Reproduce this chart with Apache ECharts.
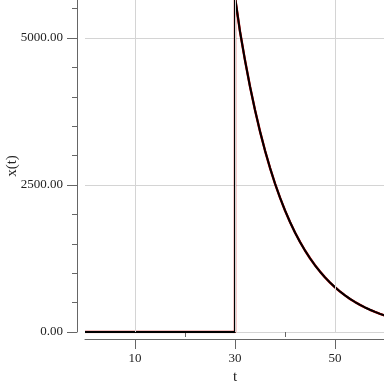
<!DOCTYPE html>
<html>
<head>
<meta charset="utf-8">
<script src="https://cdn.jsdelivr.net/npm/echarts@6/dist/echarts.min.js"></script>
<style>html,body{margin:0;padding:0;background:#fff;}#c{width:384px;height:384px;}</style>
</head>
<body>
<div id="c"></div>
<script>
// time points (t) and x(t) values
const tValues = [0, 30, 30, 31, 32, 33, 34, 35, 36, 37, 38, 39, 40, 41, 42, 43, 44, 45, 46, 47, 48, 49, 50, 51, 52, 53, 54, 55, 56, 57, 58, 59, 60];
const xValues = [0, 0, 5700, 5110, 4620, 4175, 3775, 3412, 3086, 2792, 2525, 2285, 2067, 1871, 1693, 1532, 1386, 1254, 1135, 1027, 929, 841, 761, 688, 623, 563, 510, 461, 417, 378, 342, 309, 280];
const xMajorTicks = [10, 30, 50];
const xMinorTicks = [20, 40];
const yTickStep = 2500;

const pairs = tValues.map((t, i) => [t, xValues[i]]);
const font = 'Liberation Serif';
const axisColor = '#666';

const chart = echarts.init(document.getElementById('c'), null, {renderer: 'canvas'});
chart.setOption({
  animation: false,
  grid: {left: 85, right: -1, top: -109, bottom: 52, containLabel: false, outerBoundsMode: 'none'},
  xAxis: [{
    type: 'value', min: 0, max: 60, interval: 10, offset: 7, position: 'bottom',
    axisLine: {show: true, onZero: false, lineStyle: {color: axisColor, width: 1}},
    axisTick: {show: true, customValues: xMajorTicks, length: 10, lineStyle: {color: axisColor}},
    axisLabel: {customValues: xMajorTicks, margin: 13, fontFamily: font, fontSize: 13, color: '#222'},
    splitLine: {show: false},
    name: 't', nameLocation: 'middle', nameGap: 26,
    nameTextStyle: {fontFamily: font, fontSize: 15, color: '#222'}
  }, {
    type: 'value', min: 0, max: 60, interval: 10, offset: 7, position: 'bottom',
    axisLine: {show: false},
    axisTick: {show: true, customValues: xMinorTicks, length: 5, lineStyle: {color: axisColor}},
    axisLabel: {show: false},
    splitLine: {show: false}
  }],
  yAxis: {
    type: 'value', min: 0, max: 7500, interval: yTickStep, offset: 8,
    axisLine: {show: true, onZero: false, lineStyle: {color: axisColor, width: 1}},
    axisTick: {show: true, length: 10, lineStyle: {color: axisColor}},
    minorTick: {show: true, splitNumber: 5, length: 5, lineStyle: {color: axisColor}},
    axisLabel: {margin: 14, fontFamily: font, fontSize: 13, color: '#222', formatter: v => v.toFixed(2)},
    splitLine: {show: true, lineStyle: {color: '#d4d4d4', width: 1}},
    minorSplitLine: {show: false}
  },
  graphic: [{
    type: 'text', x: 12, y: 166, rotation: Math.PI / 2,
    style: {text: 'x(t)', font: '15px "Liberation Serif"', fill: '#222', align: 'center', verticalAlign: 'middle'}
  }],
  series: [{
    type: 'line', data: [], z: 1, silent: true,
    markLine: {
      silent: true, symbol: ['none', 'none'], animation: false,
      label: {show: false},
      lineStyle: {color: '#d4d4d4', width: 1, type: 'solid'},
      data: xMajorTicks.map(v => ({xAxis: v}))
    }
  }, {
    type: 'line', data: pairs, showSymbol: false, z: 3,
    lineStyle: {color: '#cc0000', width: 2.4}
  }, {
    type: 'line', data: pairs, showSymbol: false, z: 4,
    lineStyle: {color: '#000000', width: 2}
  }]
});
</script>
</body>
</html>
